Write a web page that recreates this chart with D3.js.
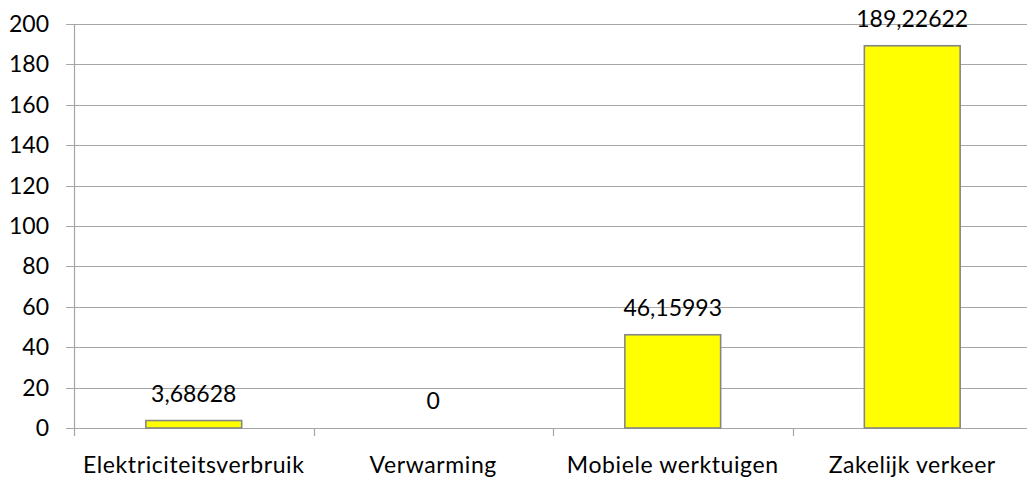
<!DOCTYPE html>
<html lang="nl">
<head>
<meta charset="UTF-8">
<title>Bar Chart</title>
<script src="https://cdn.jsdelivr.net/npm/d3@7"></script>
<style>
  body { margin: 0; background: #fff; }
  text { font-family: Lato, "Open Sans", sans-serif; fill: #000; }
</style>
</head>
<body>
<svg id="main" width="1027" height="479"></svg>
<script>
    // data
    const categories = ['Elektriciteitsverbruik', 'Verwarming', 'Mobiele werktuigen', 'Zakelijk verkeer'];
    const values = [3.68628, 0, 46.15993, 189.22622];
    const valueLabels = ['3,68628', '0', '46,15993', '189,22622'];
    const yTicks = [0, 20, 40, 60, 80, 100, 120, 140, 160, 180, 200];

    let svg = d3.select('svg#main');
    let plotLeft = 74, plotRight = 1032, plotTop = 24, plotBottom = 428;
    let fontSize = '23px';

    let x = d3.scaleBand()
        .domain(categories)
        .range([plotLeft, plotRight])
        .paddingInner(0.6)
        .paddingOuter(0.3);

    let band = (plotRight - plotLeft) / categories.length;

    let y = d3.scaleLinear()
        .domain([0, 200])
        .range([plotBottom, plotTop]);

    // gridlines + y tick marks
    svg.append('g').selectAll('line')
        .data(yTicks)
        .enter().append('line')
        .attr('x1', plotLeft - 8).attr('x2', plotRight)
        .attr('y1', d => Math.round(y(d)) + 0.5).attr('y2', d => Math.round(y(d)) + 0.5)
        .attr('stroke', '#a6a6a6').attr('stroke-width', 1.2);

    // y tick labels
    svg.append('g').selectAll('text')
        .data(yTicks)
        .enter().append('text')
        .attr('x', 49)
        .attr('y', d => y(d))
        .attr('dy', '0.35em')
        .attr('text-anchor', 'end')
        .style('font-size', fontSize)
        .text(d => d);

    // y axis line
    svg.append('line')
        .attr('x1', plotLeft + 0.5).attr('x2', plotLeft + 0.5)
        .attr('y1', plotTop).attr('y2', plotBottom + 8)
        .attr('stroke', '#a6a6a6').attr('stroke-width', 1.2);

    // category tick marks
    svg.append('g').selectAll('line')
        .data(d3.range(1, categories.length + 1))
        .enter().append('line')
        .attr('x1', i => Math.round(plotLeft + i * band) + 0.5)
        .attr('x2', i => Math.round(plotLeft + i * band) + 0.5)
        .attr('y1', plotBottom).attr('y2', plotBottom + 8)
        .attr('stroke', '#a6a6a6').attr('stroke-width', 1.2);

    // bars
    svg.append('g').selectAll('rect')
        .data(values)
        .enter().append('rect')
        .attr('x', (d, i) => x(categories[i]))
        .attr('width', x.bandwidth())
        .attr('y', d => y(d))
        .attr('height', d => plotBottom - y(d))
        .attr('fill', '#ffff00')
        .attr('stroke', '#868686')
        .attr('stroke-width', 1.6);

    // value labels
    svg.append('g').selectAll('text')
        .data(values)
        .enter().append('text')
        .attr('x', (d, i) => x(categories[i]) + x.bandwidth() / 2)
        .attr('y', d => y(d) - 27)
        .attr('dy', '0.35em')
        .attr('text-anchor', 'middle')
        .style('font-size', fontSize)
        .text((d, i) => valueLabels[i]);

    // category labels
    svg.append('g').selectAll('text')
        .data(categories)
        .enter().append('text')
        .attr('x', d => x(d) + x.bandwidth() / 2)
        .attr('y', 465)
        .attr('dy', '0.35em')
        .attr('text-anchor', 'middle')
        .style('font-size', '23px')
        .style('letter-spacing', '0.6px')
        .text(d => d);
</script>
</body>
</html>
